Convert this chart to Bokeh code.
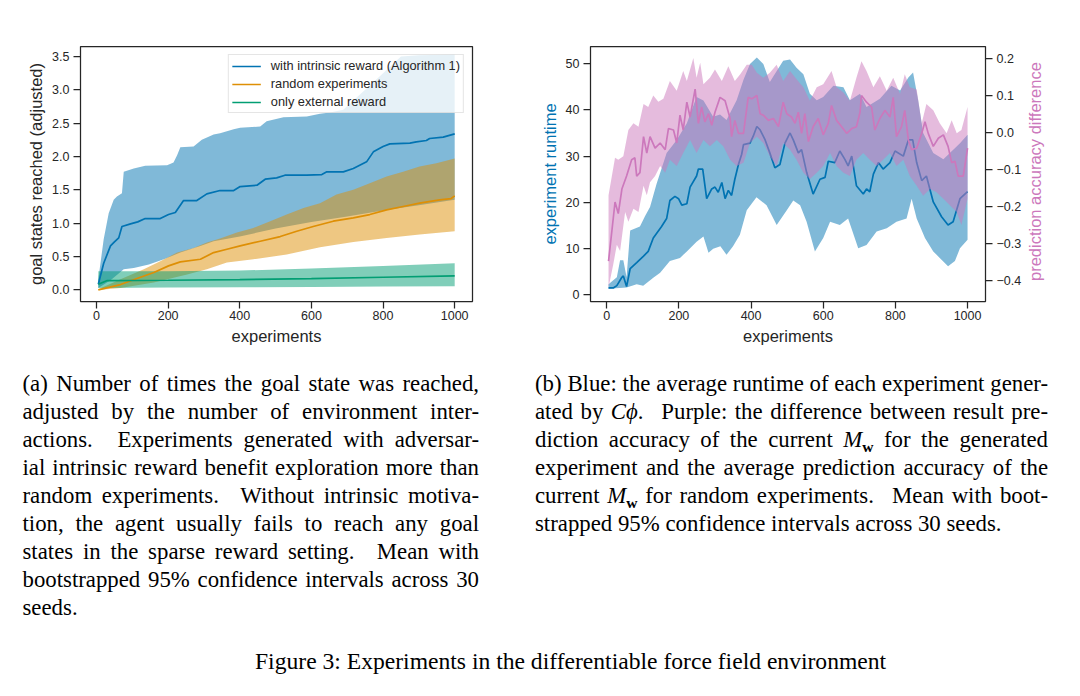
import math
from bokeh.plotting import figure
from bokeh.models import (Range1d, LinearAxis, FixedTicker, Legend, LegendItem, Div,
                          CustomJSTickFormatter, NumeralTickFormatter)
from bokeh.core.properties import value
from bokeh.layouts import row, column
from bokeh.embed import file_html
from bokeh.resources import INLINE

# ---------------- data: panel (a) ----------------
a_ticks_x = [0, 200, 400, 600, 800, 1000]
a_ticks_y = [0.0, 0.5, 1.0, 1.5, 2.0, 2.5, 3.0, 3.5]

intr_x = [5, 20, 39, 50, 62, 71, 95, 115, 136, 178, 201, 220, 243, 280, 308, 345, 383, 401, 448, 471,
          503, 526, 587, 629, 643, 689, 717, 754, 773, 800, 819, 875, 893, 921, 930, 968, 1000]
intr_mean = [0.085, 0.40, 0.66, 0.72, 0.78, 0.95, 0.99, 1.02, 1.07, 1.07, 1.13, 1.16, 1.34, 1.34, 1.44,
             1.49, 1.49, 1.55, 1.57, 1.66, 1.68, 1.72, 1.72, 1.73, 1.77, 1.77, 1.82, 1.92, 2.07, 2.15,
             2.19, 2.20, 2.22, 2.24, 2.27, 2.29, 2.34]
intr_up_x = [5, 20, 34, 48, 57, 71, 76, 104, 136, 197, 215, 225, 234, 271, 294, 327, 345, 383, 401, 457,
             475, 522, 587, 624, 652, 689, 750, 800, 850, 900, 1000]
intr_up = [0.16, 0.76, 1.15, 1.35, 1.40, 1.45, 1.77, 1.82, 1.86, 1.87, 1.91, 2.02, 2.14, 2.15, 2.25,
           2.33, 2.35, 2.41, 2.43, 2.45, 2.53, 2.59, 2.60, 2.64, 2.66, 2.70, 3.00, 3.25, 3.50, 3.52, 3.53]
intr_lo_x = [5, 40, 76, 104, 146, 188, 234, 290, 327, 400, 500, 600, 700, 800, 900, 1000]
intr_lo = [0.03, 0.15, 0.31, 0.33, 0.38, 0.46, 0.56, 0.66, 0.73, 0.80, 0.92, 1.02, 1.10, 1.19, 1.27, 1.35]

rand_x = [5, 67, 113, 160, 201, 234, 290, 327, 364, 401, 457, 513, 559, 605, 661, 717, 763, 810, 856,
          902, 958, 990, 1000]
rand_mean = [0.0, 0.08, 0.17, 0.26, 0.36, 0.42, 0.46, 0.56, 0.61, 0.66, 0.73, 0.80, 0.88, 0.95, 1.03,
             1.08, 1.13, 1.20, 1.25, 1.30, 1.35, 1.37, 1.41]
rand_up_x = [5, 67, 132, 178, 225, 271, 308, 345, 392, 438, 485, 531, 578, 624, 670, 717, 763, 810, 856,
             902, 949, 1000]
rand_up = [0.01, 0.16, 0.31, 0.43, 0.56, 0.63, 0.71, 0.77, 0.86, 0.93, 1.03, 1.13, 1.23, 1.30, 1.43,
           1.50, 1.60, 1.70, 1.77, 1.85, 1.90, 1.97]
rand_lo_x = [5, 67, 160, 253, 308, 364, 438, 531, 624, 717, 810, 902, 1000]
rand_lo = [0.0, 0.03, 0.11, 0.23, 0.31, 0.41, 0.46, 0.53, 0.64, 0.72, 0.78, 0.83, 0.88]

ext_x = [5, 30, 200, 400, 600, 800, 1000]
ext_mean = [0.085, 0.14, 0.145, 0.155, 0.17, 0.19, 0.21]
ext_band_x = [5, 200, 400, 600, 800, 1000]
ext_up = [0.28, 0.28, 0.29, 0.32, 0.36, 0.40]
ext_lo = [0.03, 0.035, 0.04, 0.045, 0.05, 0.055]

a_labels = ["with intrinsic reward (Algorithm 1)", "random experiments", "only external reward"]

# ---------------- data: panel (b) ----------------
b_ticks_left = [0, 10, 20, 30, 40, 50]
b_ticks_right = [-0.4, -0.3, -0.2, -0.1, 0.0, 0.1, 0.2]

rt_x = [5, 18, 28, 42, 46, 55, 65, 83, 102, 115, 129, 152, 166, 175, 189, 199, 208, 222, 231, 249,
        254, 266, 277, 291, 300, 309, 319, 328, 337, 346, 355, 365, 374, 379, 397, 406, 416, 425, 439, 452,
        466, 480, 494, 508, 517, 531, 540, 554, 572, 591, 605, 614, 632, 646, 660, 669, 679, 692, 711, 720,
        729, 739, 753, 766, 785, 799, 822, 836, 848, 859, 873, 886, 905, 928, 946, 960, 979, 1000]
rt_mean = [1.5, 1.5, 2.0, 3.8, 4.1, 1.8, 5.7, 7.0, 8.4, 9.4, 12.3, 14.8, 16.5, 20.4, 21.3, 20.8, 19.4, 19.7, 23.3, 25.7,
           27.2, 27.2, 20.8, 22.9, 23.3, 22.2, 24.3, 20.8, 22.6, 21.5, 25.0, 28.2, 30.4, 32.5, 32.8, 34.3, 36.4, 35.7, 33.5, 30.7,
           27.5, 28.2, 32.8, 35.0, 33.5, 30.7, 31.4, 26.5, 21.8, 25.0, 25.4, 28.9, 28.6, 31.1, 29.3, 27.9, 30.0, 23.6, 21.8, 22.9,
           22.3, 26.1, 28.6, 27.2, 28.6, 31.1, 30.0, 33.5, 33.5, 28.6, 24.7, 25.7, 20.1, 16.9, 15.1, 15.8, 20.8, 22.3]
rt_up_x = [5, 28, 37, 46, 55, 65, 92, 106, 120, 138, 166, 194, 222, 249, 268, 295, 314, 332, 360, 379,
           397, 416, 434, 452, 489, 508, 526, 545, 563, 582, 600, 628, 656, 674, 702, 720, 757, 789, 813, 836,
           849, 863, 877, 905, 933, 951, 979, 1000]
rt_up = [2.3, 3.8, 7.5, 7.5, 3.8, 13.9, 14.8, 17.0, 19.0, 24.0, 30.7, 33.5, 37.1, 42.8, 42.0, 38.5, 39.0, 37.8, 42.1, 46.5,
         49.9, 51.3, 49.9, 46.0, 50.6, 50.9, 49.1, 47.7, 43.5, 42.1, 42.8, 45.2, 44.9, 42.1, 43.5, 40.6, 42.4, 45.2, 44.2, 47.0,
         48.1, 42.1, 35.0, 30.7, 29.3, 30.7, 32.8, 34.6]
rt_lo_x = [5, 55, 83, 101, 129, 148, 175, 203, 222, 249, 268, 282, 295, 315, 332, 350, 369, 388, 415, 443,
           471, 499, 517, 536, 554, 577, 600, 619, 646, 669, 697, 720, 748, 776, 803, 831, 845, 859, 882, 905,
           923, 946, 965, 979, 1000]
rt_lo = [1.3, 1.6, 2.3, 2.0, 3.7, 4.8, 7.3, 8.0, 9.4, 11.5, 12.6, 9.1, 10.0, 10.5, 8.7, 10.5, 13.0, 18.3, 21.1, 19.4,
         15.1, 18.3, 20.4, 19.4, 15.8, 9.4, 12.3, 15.8, 15.1, 16.5, 10.1, 10.8, 13.7, 14.4, 15.8, 16.5, 20.8, 16.5, 12.3, 9.4,
         8.0, 6.2, 7.3, 10.1, 11.9]

acc_x = [5, 14, 23, 32, 42, 55, 69, 78, 83, 92, 102, 111, 120, 134, 148, 162, 171, 185, 194, 203,
         212, 222, 231, 245, 254, 263, 272, 282, 291, 300, 314, 328, 342, 346, 355, 365, 379, 392, 402, 416,
         425, 434, 448, 462, 476, 489, 499, 512, 522, 531, 540, 549, 559, 572, 586, 600, 614, 623, 637, 651,
         665, 679, 692, 702, 706, 720, 734, 743, 757, 771, 785, 794, 803, 817, 826, 836, 845, 859, 873, 882,
         891, 905, 919, 933, 946, 956, 965, 974, 988, 1000]
acc_mean = [-0.347, -0.268, -0.188, -0.219, -0.153, -0.118, -0.074, -0.069, -0.118, -0.109,
            -0.012, -0.056, -0.012, -0.043, -0.029, -0.047, 0.010, 0.006, -0.029, 0.046,
            0.006, 0.081, 0.041, 0.116, 0.024, 0.068, 0.028, 0.050, 0.019, 0.054,
            0.094, 0.085, 0.037, -0.012, 0.032, -0.003, -0.003, 0.094, 0.090, 0.099,
            0.050, 0.046, 0.032, 0.037, 0.015, 0.081, 0.050, 0.041, 0.024, 0.054,
            -0.003, 0.050, -0.025, 0.015, 0.037, -0.007, 0.024, 0.072, 0.032, 0.015,
            -0.003, 0.010, 0.015, 0.054, 0.099, 0.081, 0.068, 0.006, 0.037, 0.059,
            0.041, 0.094, -0.012, 0.015, 0.059, -0.021, -0.047, -0.043, -0.003, 0.028,
            -0.003, -0.038, -0.016, -0.007, -0.038, -0.082, -0.078, -0.118, -0.118, -0.043]
acc_up_x = [5, 23, 32, 46, 60, 74, 88, 102, 115, 129, 143, 157, 175, 194, 212, 222, 240, 249, 259, 268,
            286, 300, 319, 337, 355, 370, 388, 402, 416, 434, 452, 471, 489, 508, 526, 545, 563, 582, 600, 623,
            637, 656, 674, 692, 706, 720, 739, 757, 776, 794, 813, 826, 840, 859, 873, 886, 905, 923, 942, 956,
            970, 983, 1000]
acc_up = [-0.17, -0.069, -0.074, -0.065, 0.006, 0.024, 0.015, 0.076, 0.068, 0.099,
          0.082, 0.090, 0.138, 0.112, 0.165, 0.138, 0.200, 0.147, 0.187, 0.129,
          0.147, 0.169, 0.138, 0.178, 0.138, 0.156, 0.182, 0.182, 0.160, 0.147,
          0.160, 0.182, 0.138, 0.165, 0.143, 0.121, 0.085, 0.121, 0.129, 0.165,
          0.121, 0.107, 0.085, 0.147, 0.191, 0.165, 0.121, 0.151, 0.112, 0.147,
          0.103, 0.156, 0.121, 0.115, 0.024, 0.076, 0.059, 0.024, -0.003, 0.032,
          -0.003, 0.006, 0.068]
acc_lo_x = [5, 18, 28, 37, 51, 60, 74, 88, 102, 111, 120, 134, 148, 162, 175, 194, 212, 231, 249, 268,
            286, 305, 323, 342, 360, 379, 397, 416, 434, 452, 471, 489, 508, 526, 545, 563, 582, 600, 619, 637,
            656, 674, 692, 711, 729, 748, 766, 785, 803, 822, 840, 859, 877, 896, 914, 933, 951, 970, 983, 1000]
acc_lo = [-0.418, -0.356, -0.303, -0.320, -0.215, -0.241, -0.206, -0.215, -0.144, -0.170,
          -0.135, -0.118, -0.091, -0.109, -0.074, -0.091, -0.056, -0.021, -0.056, -0.021,
          -0.038, -0.021, -0.038, -0.074, -0.091, -0.082, -0.029, -0.012, -0.029, -0.065,
          -0.091, -0.029, -0.047, -0.074, -0.109, -0.126, -0.109, -0.091, -0.056, -0.091,
          -0.109, -0.118, -0.074, -0.056, -0.074, -0.091, -0.074, -0.056, -0.091, -0.074,
          -0.118, -0.144, -0.171, -0.153, -0.162, -0.179, -0.197, -0.215, -0.250, -0.179]

right_axis_label = "prediction accuracy difference"

# ---------------- caption texts ----------------
cap_a_lines = [
    "(a) Number of times the goal state was reached,",
    "adjusted by the number of environment inter-",
    "actions. <s_> Experiments generated with adversar-",
    "ial intrinsic reward benefit exploration more than",
    "random experiments. <s_> Without intrinsic motiva-",
    "tion, the agent usually fails to reach any goal",
    "states in the sparse reward setting. <s_> Mean with",
    "bootstrapped 95% confidence intervals across 30",
    "seeds.",
]
cap_b_lines = [
    "(b) Blue: the average runtime of each experiment gener-",
    "ated by <i>C&#x03D5;</i>. <s_> Purple: the difference between result pre-",
    "diction accuracy of the current <M_w> for the generated",
    "experiment and the average prediction accuracy of the",
    "current <M_w> for random experiments. <s_> Mean with boot-",
    "strapped 95% confidence intervals across 30 seeds.",
]
fig_caption = "Figure 3: Experiments in the differentiable force field environment"

# ---------------- styling ----------------
INK = "#262626"
BLUE = "#0173b2"
ORANGE = "#de8f05"
GREEN = "#029e73"
PINK = "#cc78bc"
SANS = "Liberation Sans"


def style_axis(ax):
    ax.axis_line_color = None
    ax.major_tick_line_color = INK
    ax.major_tick_line_width = 1.25
    ax.major_tick_out = 7
    ax.major_tick_in = 0
    ax.minor_tick_line_color = None
    ax.major_label_text_font = SANS
    ax.major_label_text_font_size = "12.5px"
    ax.major_label_text_color = INK
    ax.major_label_standoff = 4
    ax.axis_label_text_font = SANS
    ax.axis_label_text_font_size = "16.5px"
    ax.axis_label_text_font_style = "normal"
    ax.axis_label_text_color = INK
    ax.axis_label_standoff = 4


def band(p, xu, yu, xl, yl, color, **kw):
    xs = list(xu) + list(reversed(xl))
    ys = list(yu) + list(reversed(yl))
    p.patch(xs, ys, fill_color=color, fill_alpha=0.5, line_color=None, **kw)


# ---------------- panel (a) ----------------
pA = figure(width=500, height=350, x_range=Range1d(-44.75, 1049.75), y_range=Range1d(-0.174, 3.65),
            output_backend="svg", toolbar_location=None,
            min_border_left=80, min_border_right=28, min_border_top=46, min_border_bottom=48)
pA.xgrid.visible = False
pA.ygrid.visible = False
pA.outline_line_color = INK
pA.outline_line_width = 1.25

band(pA, intr_up_x, intr_up, intr_lo_x, intr_lo, BLUE)
band(pA, rand_up_x, rand_up, rand_lo_x, rand_lo, ORANGE)
band(pA, ext_band_x, ext_up, ext_band_x, ext_lo, GREEN)
r1 = pA.line(intr_x, intr_mean, line_color=BLUE, line_width=1.7)
r2 = pA.line(rand_x, rand_mean, line_color=ORANGE, line_width=1.7)
r3 = pA.line(ext_x, ext_mean, line_color=GREEN, line_width=1.7)

pA.xaxis.ticker = FixedTicker(ticks=a_ticks_x)
pA.yaxis.ticker = FixedTicker(ticks=a_ticks_y)
pA.yaxis.formatter = NumeralTickFormatter(format="0.0")
pA.xaxis.axis_label = "experiments"
pA.yaxis.axis_label = "goal states reached (adjusted)"
for ax in pA.xaxis + pA.yaxis:
    style_axis(ax)
pA.xaxis.major_label_standoff = 2
pA.xaxis.axis_label_standoff = 4

legA = Legend(items=[LegendItem(label=a_labels[0], renderers=[r1]),
                     LegendItem(label=a_labels[1], renderers=[r2]),
                     LegendItem(label=a_labels[2], renderers=[r3])],
              location="top_right")
legA.label_text_font = SANS
legA.label_text_font_size = "12.8px"
legA.label_text_color = INK
legA.glyph_width = 29
legA.glyph_height = 12
legA.label_height = 12
legA.label_standoff = 10
legA.padding = 3
legA.spacing = 3
legA.margin = 8
legA.border_line_color = "#cccccc"
legA.border_line_width = 1
legA.background_fill_color = "white"
legA.background_fill_alpha = 0.8
pA.add_layout(legA)

# ---------------- panel (b) ----------------
pB = figure(width=525, height=350, x_range=Range1d(-45.0, 1049.75), y_range=Range1d(-1.43, 53.7),
            output_backend="svg", toolbar_location=None,
            min_border_left=90, min_border_right=40, min_border_top=42, min_border_bottom=49)
pB.xgrid.visible = False
pB.ygrid.visible = False
pB.outline_line_color = INK
pB.outline_line_width = 1.25
pB.extra_y_ranges = {"right": Range1d(-0.456, 0.231)}

band(pB, rt_up_x, rt_up, rt_lo_x, rt_lo, BLUE)
pB.line(rt_x, rt_mean, line_color=BLUE, line_width=1.7)
band(pB, acc_up_x, acc_up, acc_lo_x, acc_lo, PINK, y_range_name="right")
pB.line(acc_x, acc_mean, line_color=PINK, line_width=1.7, y_range_name="right")

pB.xaxis.ticker = FixedTicker(ticks=a_ticks_x)
pB.yaxis.ticker = FixedTicker(ticks=b_ticks_left)
pB.xaxis.axis_label = "experiments"
pB.yaxis.axis_label = "experiment runtime"
for ax in pB.xaxis + pB.yaxis:
    style_axis(ax)
pB.xaxis.major_label_standoff = 2
pB.xaxis.axis_label_standoff = 4
pB.yaxis.axis_label_text_color = BLUE

right_ax = LinearAxis(y_range_name="right")
style_axis(right_ax)
right_ax.ticker = FixedTicker(ticks=b_ticks_right)
right_ax.formatter = CustomJSTickFormatter(
    code="return (tick < -1e-9 ? '\u2212' : '') + Math.abs(tick).toFixed(1);")
pB.add_layout(right_ax, "right")

# narrow strip holding the right-hand axis title (reads bottom to top)
pC = figure(width=47, height=350, x_range=Range1d(0, 47), y_range=Range1d(0, 350),
            output_backend="svg", toolbar_location=None,
            min_border_left=0, min_border_right=0, min_border_top=0, min_border_bottom=0)
pC.axis.visible = False
pC.xgrid.visible = False
pC.ygrid.visible = False
pC.outline_line_color = None
pC.text(x=[9], y=[178.3], text=[right_axis_label], angle=math.pi / 2,
        text_align="center", text_baseline="middle",
        text_font=value(SANS), text_font_size="16.5px", text_color=PINK)

# ---------------- captions ----------------
SEP = '<span style="display:inline-block;width:0.12em"></span>'
MW = ('<i>M</i><span style="font-size:68%;font-weight:bold;font-style:normal;'
      'position:relative;top:0.3em">w</span>')
LH = 27.9


def block(lines, left, top, width):
    out = [f'<div style="position:absolute;left:{left}px;top:{top}px;width:{width}px;">']
    for i, ln in enumerate(lines):
        ln = ln.replace("<s_>", SEP).replace("<M_w>", MW)
        last = i == len(lines) - 1
        al = "left" if last else "justify"
        ws = "normal" if last else "-2px"
        out.append(f'<div style="height:{LH}px;line-height:{LH}px;white-space:nowrap;word-spacing:{ws};'
                   f'text-align:{al};text-align-last:{al};">{ln}</div>')
    out.append('</div>')
    return "".join(out)


html = ('<div style="position:relative;width:1072px;height:330px;font-family:\'Liberation Serif\',serif;'
        'font-size:22.8px;color:#000;">'
        + block(cap_a_lines, 22.5, 20.4, 456.5)
        + block(cap_b_lines, 535, 20.4, 513)
        + f'<div style="position:absolute;left:255px;top:297.6px;white-space:nowrap;line-height:{LH}px;'
        + f'font-size:23.6px;">' + fig_caption + '</div></div>')

div = Div(text=html, width=1072, height=330, margin=0)

layout = column(row(pA, pB, pC), div)
open("out.html", "w").write(file_html(layout, INLINE))
